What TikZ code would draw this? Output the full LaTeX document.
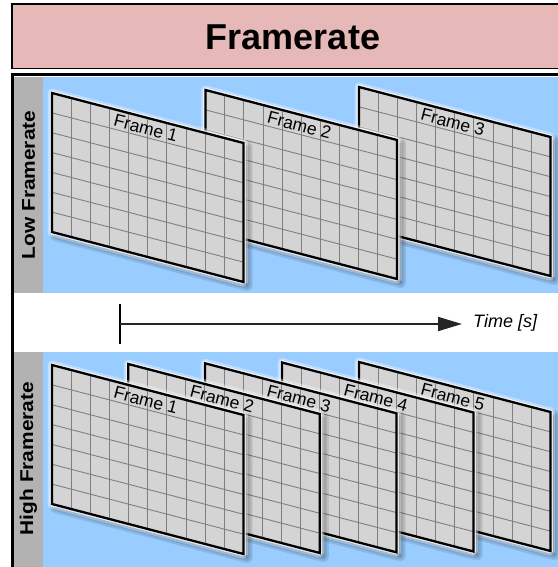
\documentclass[tikz,border=0pt]{standalone}
\usepackage{fontspec}
\setmainfont{Liberation Sans}
\usetikzlibrary{arrows.meta}

\definecolor{titlepink}{HTML}{E6B8B7}
\definecolor{skyblue}{HTML}{99CCFF}
\definecolor{stripgray}{HTML}{B2B2B2}
\definecolor{framegray}{HTML}{D4D4D4}
\definecolor{gridgray}{HTML}{7F7F7F}

\tikzset{
  titletext/.style={font=\bfseries\fontsize{36}{40}\selectfont, inner sep=0pt},
  sidetext/.style={font=\bfseries\fontsize{18.5}{20}\selectfont, rotate=90, inner sep=0pt},
  framelabel/.style={font=\fontsize{17.5}{19}\selectfont, inner sep=0pt, rotate=-14.63},
  timetext/.style={font=\itshape\fontsize{18}{20}\selectfont, anchor=west, inner sep=0pt},
  gridline/.style={gridgray, line width=0.9pt},
  frameedge/.style={black, line width=2.3pt, line join=miter},
  haloline/.style={white, line join=round},
  shadowlayer/.style={black, line join=round},
}

% one video frame: a slanted grid sheet with shadow, glow and caption
% #1,#2: top-left corner, #3: caption, #4: node name of the caption
\newcommand\vidframe[4]{%
  \begin{scope}[shift={(#1,#2)}, x={(191.5pt,-50pt)}, y={(0pt,-139pt)}]
    \begin{scope}[shift={(3.5pt,-3.5pt)}]
      \foreach \lw in {11,7,3}
        \filldraw[shadowlayer, opacity=0.1, line width=\lw pt]
          (0,0) -- (1,0) -- (1,1) -- (0,1) -- cycle;
    \end{scope}
    \draw[haloline, opacity=0.35, line width=9pt] (0,0) -- (1,0) -- (1,1) -- (0,1) -- cycle;
    \draw[haloline, opacity=0.75, line width=5pt] (0,0) -- (1,0) -- (1,1) -- (0,1) -- cycle;
    \fill[framegray] (0,0) -- (1,0) -- (1,1) -- (0,1) -- cycle;
    \foreach \i in {1,...,9} \draw[gridline] (\i/10,0) -- (\i/10,1);
    \foreach \j in {1,...,6} \draw[gridline] (0,\j/7) -- (1,\j/7);
    \draw[frameedge] (0,0) -- (1,0) -- (1,1) -- (0,1) -- cycle;
    \node[framelabel] (#4) at (0.49,0.078) {#3};
  \end{scope}}

\begin{document}
\begin{tikzpicture}[x=1pt,y=-1pt]
  \useasboundingbox (0,0) rectangle (557,567);

  % heading bar
  \draw[fill=titlepink, line width=1.5pt] (12,4) rectangle (590,68.5);
  \node[titletext] (title) at (293,37) {Framerate};

  % two panels with grey side strips
  \fill[skyblue] (43,77) rectangle (570,293);
  \fill[stripgray] (14,77) rectangle (43,293);
  \fill[skyblue] (43,352) rectangle (570,580);
  \fill[stripgray] (14,352) rectangle (43,580);
  \node[sidetext] (low) at (28.5,185) {\scalebox{1.13}[1]{Low Framerate}};
  \node[sidetext] (high) at (28.5,458.5) {\scalebox{1.13}[1]{High Framerate}};

  % low framerate: three frames, back to front
  \vidframe{359}{87}{Frame 3}{lf3}
  \vidframe{205.5}{90}{Frame 2}{lf2}
  \vidframe{52}{93}{Frame 1}{lf1}

  % high framerate: five frames, back to front
  \vidframe{359}{362}{Frame 5}{hf5}
  \vidframe{282}{362.5}{Frame 4}{hf4}
  \vidframe{205}{363.3}{Frame 3}{hf3}
  \vidframe{128.3}{364}{Frame 2}{hf2}
  \vidframe{52}{365}{Frame 1}{hf1}

  % time axis
  \coordinate (tstart) at (120,324);
  \coordinate (ttop) at (120,304);
  \coordinate (tbot) at (120,344);
  \coordinate (tend) at (462,324);
  \node[timetext] (time) at (473,323) {Time [s]};
  \draw[line width=1.6pt] (ttop) -- (tbot);
  \draw[line width=1.8pt, black!85, -{Triangle[length=24pt,width=14pt]}] (tstart) -- (tend);

  % outer frame of the diagram body
  \draw[line width=3pt] (12.5,590) |- (590,75);
\end{tikzpicture}
\end{document}
